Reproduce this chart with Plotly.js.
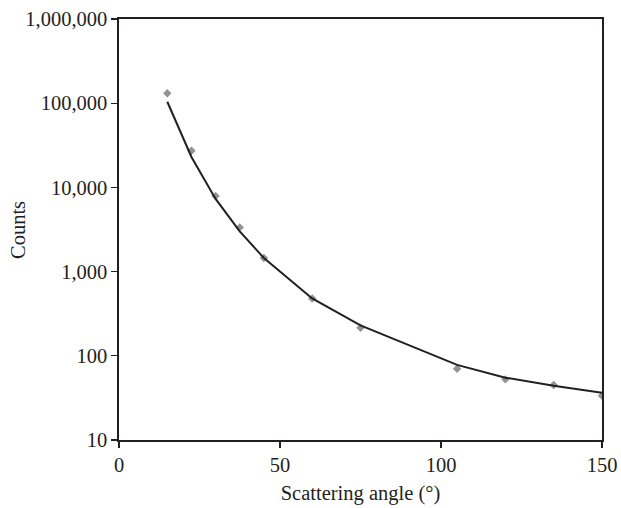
<!DOCTYPE html>
<html>
<head>
<meta charset="utf-8">
<script src="https://cdn.plot.ly/plotly-3.0.1.min.js"></script>
<style>html,body{margin:0;padding:0;background:#fff;}#chart{width:621px;height:508px;}</style>
</head>
<body>
<div id="chart"></div>
<script>
// Measured data (scattering angle in degrees, counts)
const angles = [15, 22.5, 30, 37.5, 45, 60, 75, 105, 120, 135, 150];
const measuredCounts = [131000, 27300, 7900, 3350, 1450, 480, 215, 70, 52.5, 45, 33.5];
// Fitted curve at the same angles
const fitCounts = [104000, 23000, 7300, 3000, 1450, 480, 230, 78, 55, 44, 36.5];
// Axis ticks
const yTickVals = [10, 100, 1000, 10000, 100000, 1000000];
const yTickText = ["10", "100", "1,000", "10,000", "100,000", "1,000,000"];
const xTickVals = [0, 50, 100, 150];

const font = {family: "Liberation Serif, Times New Roman, serif", size: 20.5, color: "#231f20"};

const traces = [
  {
    x: angles, y: measuredCounts, type: "scatter", mode: "markers",
    marker: {symbol: "diamond", size: 6.5, color: "#939393"},
    showlegend: false, hoverinfo: "skip"
  },
  {
    x: angles, y: fitCounts, type: "scatter", mode: "lines",
    line: {color: "#231f20", width: 2},
    showlegend: false, hoverinfo: "skip"
  }
];

const layout = {
  width: 621, height: 508,
  margin: {l: 119, r: 19, t: 19, b: 68},
  paper_bgcolor: "#fff", plot_bgcolor: "#fff",
  font: font,
  showlegend: false,
  xaxis: {
    range: [0, 150], tickvals: xTickVals, ticktext: xTickVals.map(String),
    showgrid: false, zeroline: false,
    showline: true, linecolor: "#231f20", linewidth: 1.6, mirror: true,
    ticks: "outside", ticklen: 6, tickwidth: 1.3, tickcolor: "#231f20",
    tickfont: font,
    title: {text: "Scattering angle (°)", font: font, standoff: 10}
  },
  yaxis: {
    type: "log", range: [1, 6], tickvals: yTickVals, ticktext: yTickText,
    showgrid: false, zeroline: false,
    showline: true, linecolor: "#231f20", linewidth: 1.6, mirror: true,
    ticks: "outside", ticklen: 6, tickwidth: 1.3, tickcolor: "#231f20",
    tickfont: font
  },
  annotations: [{
    text: "Counts", textangle: -90, showarrow: false,
    xref: "paper", yref: "paper",
    x: -(119 - 18) / 483, y: (440 - 230) / 421,
    xanchor: "center", yanchor: "middle",
    font: font
  }]
};

Plotly.newPlot("chart", traces, layout, {staticPlot: true, displayModeBar: false});
</script>
</body>
</html>
